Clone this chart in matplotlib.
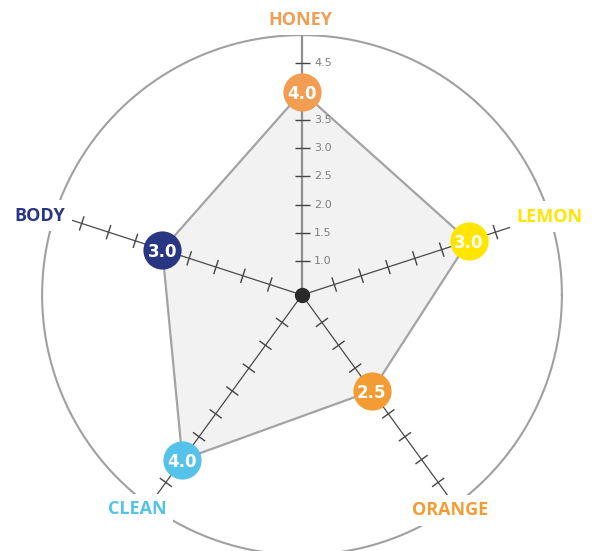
import numpy as np
import matplotlib.pyplot as plt
from matplotlib.collections import LineCollection

# chart data
categories = ["HONEY", "LEMON", "ORANGE", "CLEAN", "BODY"]
scores = [4.0, 3.5, 2.5, 4.0, 3.0]
score_labels = ["4.0", "3.0", "2.5", "4.0", "3.0"]
colors = ["#F29D52", "#FFE500", "#F39C33", "#55C2EA", "#283684"]
tick_values = [1.0, 1.5, 2.0, 2.5, 3.0, 3.5, 4.0, 4.5]
r_min, r_max = 0.4, 5.0

# label offsets (pixels) from the end of each axis
label_offsets = [(-2, 15), (0, -2), (-5, -5), (-12, -4), (-15, -1)]

# layout: centre of the web in pixels and pixels per value unit
W, H = 595, 551
cx, cy = 302, 295
scale = 56.5

fig = plt.figure(figsize=(W / 100, H / 100), dpi=100)
ax = fig.add_axes([0, 0, 1, 1])
ax.set_xlim(-cx / scale, (W - cx) / scale)
ax.set_ylim(-(H - cy) / scale, cy / scale)
ax.axis("off")

n = len(categories)
theta = 2 * np.pi * np.arange(n) / n


def to_xy(value, angle):
    r = value - r_min
    return r * np.sin(angle), r * np.cos(angle)


# outer circle
t = np.linspace(0, 2 * np.pi, 400)
R = r_max - r_min
ax.plot(R * np.cos(t), R * np.sin(t), color="#a0a0a0", lw=1.5, zorder=1)

# filled score polygon
px, py = zip(*[to_xy(v, a) for v, a in zip(scores, theta)])
ax.fill(px, py, facecolor="#f2f2f2", edgecolor="#a3a3a3", lw=1.6, zorder=1.5)

# axes with ticks
half = 7.5 / scale
segments = []
for i, a in enumerate(theta):
    ex, ey = to_xy(r_max, a)
    if i == 0:
        ax.plot([0, ex], [0, ey], color="#8f8f8f", lw=1.6, zorder=2)
    else:
        ax.plot([0, ex], [0, ey], color="#4a4a4a", lw=0.9, zorder=2)
    perp = np.array([np.cos(a), -np.sin(a)])
    for v in tick_values:
        tx, ty = to_xy(v, a)
        segments.append([(tx - perp[0] * half, ty - perp[1] * half),
                         (tx + perp[0] * half, ty + perp[1] * half)])
ax.add_collection(LineCollection(segments, colors="#444444", lw=1.0, zorder=2.2))

# value labels along the top axis
for v in tick_values:
    if v == scores[0]:
        continue
    tx, ty = to_xy(v, theta[0])
    ax.text(tx + 12 / scale, ty, f"{v:.1f}", fontsize=8, color="#7f7f7f",
            ha="left", va="center", family="DejaVu Sans", zorder=2.5)

# centre dot
ax.plot(0, 0, "o", color="#2a2a2a", markersize=10, zorder=3)

# category labels
for i, a in enumerate(theta):
    ex, ey = to_xy(r_max, a)
    ax.annotate(categories[i], (ex, ey), xytext=label_offsets[i],
                textcoords="offset pixels", ha="center", va="center",
                fontsize=13, fontweight="bold", family="Open Sans",
                color=colors[i], zorder=4,
                bbox=dict(boxstyle="square,pad=0.35", fc="white", ec="none"))

# score markers
for i, a in enumerate(theta):
    mx, my = to_xy(scores[i], a)
    ax.plot(mx, my, "o", color=colors[i], markersize=27.5, mew=0, zorder=5)
    ax.text(mx, my, score_labels[i], color="white", fontsize=12,
            fontweight="bold", family="DejaVu Sans", ha="center",
            va="center_baseline", zorder=6)

fig.savefig("out.png", dpi=100)
